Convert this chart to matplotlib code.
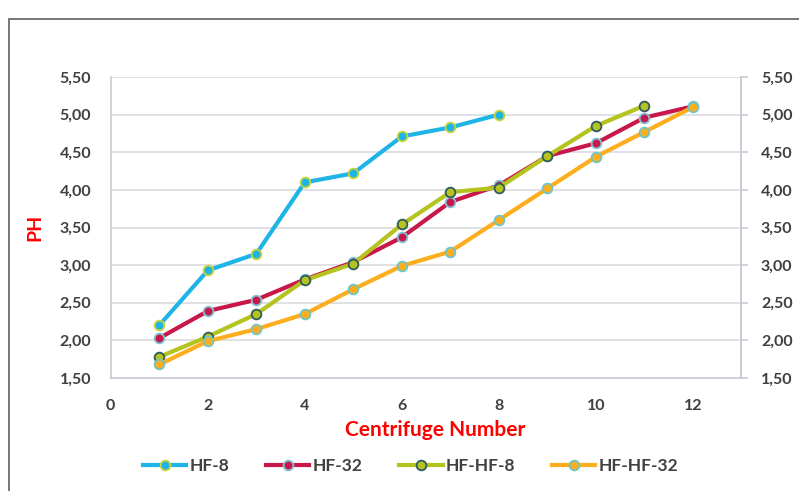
import matplotlib
matplotlib.use("Agg")
import matplotlib.pyplot as plt
from matplotlib.patches import Rectangle
from matplotlib.ticker import FuncFormatter

plt.rcParams['font.family'] = ['Lato', 'DejaVu Sans']

# centrifuge number vs measured pH for each treatment
hf8_x = [1, 2, 3, 4, 5, 6, 7, 8]
hf8_y = [2.20, 2.93, 3.15, 4.10, 4.22, 4.71, 4.83, 5.00]

hf32_x = [1, 2, 3, 4, 5, 6, 7, 8, 9, 10, 11, 12]
hf32_y = [2.03, 2.39, 2.54, 2.81, 3.04, 3.37, 3.84, 4.06, 4.45, 4.62, 4.96, 5.11]

hfhf8_x = [1, 2, 3, 4, 5, 6, 7, 8, 9, 10, 11]
hfhf8_y = [1.78, 2.05, 2.35, 2.80, 3.02, 3.54, 3.97, 4.03, 4.45, 4.85, 5.12]

hfhf32_x = [1, 2, 3, 4, 5, 6, 7, 8, 9, 10, 11, 12]
hfhf32_y = [1.68, 1.99, 2.15, 2.35, 2.68, 2.99, 3.18, 3.60, 4.02, 4.44, 4.77, 5.10]

series = [
    ("HF-8", hf8_x, hf8_y, "#1fb4e6", "#c8d43a"),
    ("HF-32", hf32_x, hf32_y, "#c8184a", "#7fc3d6"),
    ("HF-HF-8", hfhf8_x, hfhf8_y, "#b4c31e", "#2f5a5e"),
    ("HF-HF-32", hfhf32_x, hfhf32_y, "#fcae1e", "#6cc6cc"),
]

ph_ticks = [1.5, 2.0, 2.5, 3.0, 3.5, 4.0, 4.5, 5.0, 5.5]
comma_fmt = FuncFormatter(lambda v, p: f"{v:.2f}".replace('.', ','))
grid_col = '#c6ccd6'
text_col = '#404040'

fig = plt.figure(figsize=(7.99, 4.91), dpi=100)
ax = fig.add_axes([0.1386, 0.2301, 0.928 - 0.1386, 0.8432 - 0.2301])

for name, xs, ys, col, edge in series:
    ax.plot(xs, ys, color=col, lw=3, marker='o', ms=7,
            markerfacecolor=col, markeredgecolor=edge, markeredgewidth=1.3,
            label=name, zorder=3)

ax.set_xlim(0, 13)
ax.set_ylim(1.5, 5.5)
ax.set_xticks([0, 2, 4, 6, 8, 10, 12])
ax.set_yticks(ph_ticks)
ax.yaxis.set_major_formatter(comma_fmt)
ax.grid(axis='y', color='#d9dce3', lw=1.2)
ax.set_axisbelow(True)

ax.spines['top'].set_visible(False)
for s in ['left', 'right', 'bottom']:
    ax.spines[s].set_color(grid_col)
    ax.spines[s].set_linewidth(1.2)

ax.tick_params(axis='x', length=0, pad=15, labelsize=11.5, labelcolor=text_col)
ax.tick_params(axis='y', length=0, pad=14, labelsize=11.5, labelcolor=text_col)
for lab in ax.get_xticklabels() + ax.get_yticklabels():
    lab.set_fontweight('bold')

# secondary axis on the right mirrors the pH scale
ax2 = ax.twinx()
ax2.set_ylim(1.5, 5.5)
ax2.set_yticks(ph_ticks)
ax2.yaxis.set_major_formatter(comma_fmt)
ax2.tick_params(axis='y', length=5, width=1.2, color=grid_col, pad=9,
                labelsize=11.5, labelcolor=text_col)
for lab in ax2.get_yticklabels():
    lab.set_fontweight('bold')
for s in ['top', 'left', 'bottom']:
    ax2.spines[s].set_visible(False)
ax2.spines['right'].set_color(grid_col)
ax2.spines['right'].set_linewidth(1.2)

ax.set_xlabel("Centrifuge Number", color='#ff0000', fontsize=15,
              fontweight='bold', labelpad=8)
ax.xaxis.set_label_coords(0.515, -0.14)
ax.set_ylabel("PH", color='#ff0000', fontsize=14, fontweight='bold', labelpad=12)

fig.legend(loc='lower center', bbox_to_anchor=(0.514, 0.002), ncol=4,
           frameon=False, handlelength=2.5, handletextpad=0.2,
           columnspacing=2.1, prop={'size': 12.5, 'weight': 'bold'},
           labelcolor=text_col)

# outer chart frame
fig.patches.append(Rectangle((9 / 799, -0.05), 1.0, 1 - 19 / 491 + 0.05,
                             transform=fig.transFigure, fill=False,
                             edgecolor='#6b6b6b', lw=1.3))

fig.savefig("out.png", dpi=100)
